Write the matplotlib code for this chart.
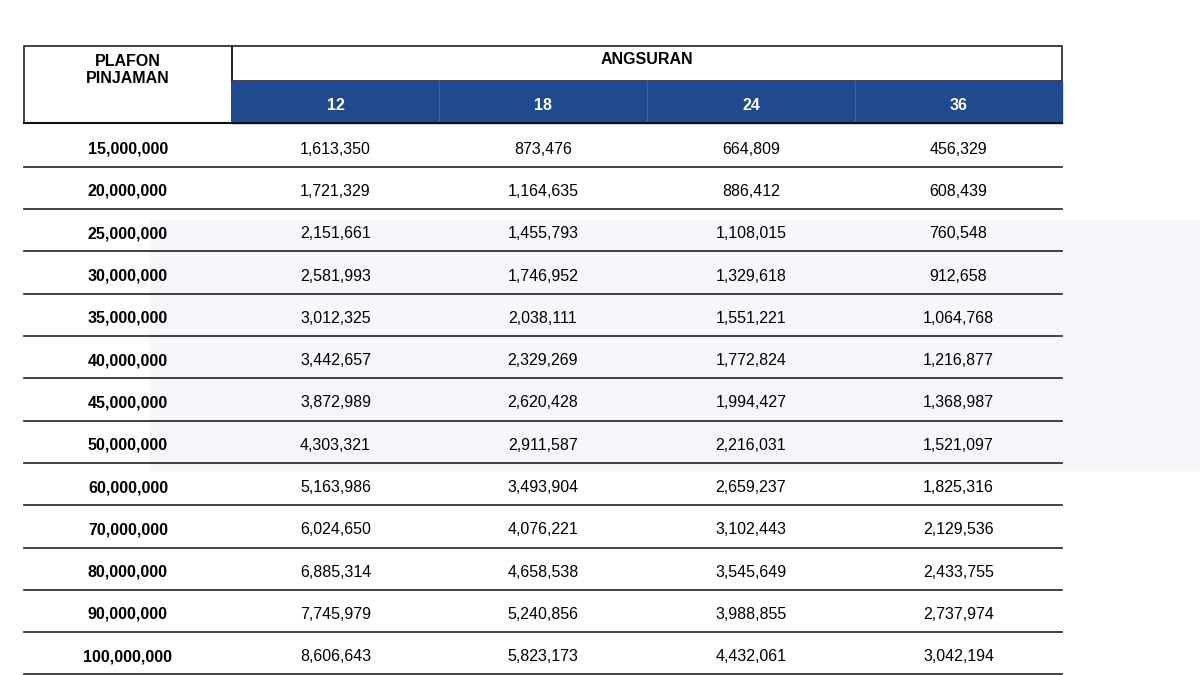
import matplotlib
matplotlib.use("Agg")
import matplotlib.pyplot as plt
from matplotlib.patches import Rectangle

plafon = ["15,000,000","20,000,000","25,000,000","30,000,000","35,000,000","40,000,000",
          "45,000,000","50,000,000","60,000,000","70,000,000","80,000,000","90,000,000","100,000,000"]
tenors = ["12","18","24","36"]
a12 = ["1,613,350","1,721,329","2,151,661","2,581,993","3,012,325","3,442,657","3,872,989",
       "4,303,321","5,163,986","6,024,650","6,885,314","7,745,979","8,606,643"]
a18 = ["873,476","1,164,635","1,455,793","1,746,952","2,038,111","2,329,269","2,620,428",
       "2,911,587","3,493,904","4,076,221","4,658,538","5,240,856","5,823,173"]
a24 = ["664,809","886,412","1,108,015","1,329,618","1,551,221","1,772,824","1,994,427",
       "2,216,031","2,659,237","3,102,443","3,545,649","3,988,855","4,432,061"]
a36 = ["456,329","608,439","760,548","912,658","1,064,768","1,216,877","1,368,987",
       "1,521,097","1,825,316","2,129,536","2,433,755","2,737,974","3,042,194"]
cols = [a12, a18, a24, a36]

fig = plt.figure(figsize=(12, 6.75), dpi=100)
ax = fig.add_axes([0, 0, 1, 1])
ax.set_xlim(0, 1200); ax.set_ylim(675, 0); ax.axis("off")
font = "Liberation Sans"
blue = "#1f4b8e"

# faint background shape
ax.add_patch(Rectangle((150, 220), 1050, 250, color="#f6f7fa", zorder=0))

L, R = 24, 1062
xs = [232, 439, 647, 855, 1062]
ax.add_patch(Rectangle((L, 46), 232 - L, 123 - 46, fill=False, ec="#222", lw=1.2, zorder=2))
ax.add_patch(Rectangle((232, 46), R - 232, 35, fill=False, ec="#222", lw=1.2, zorder=2))
ax.add_patch(Rectangle((232, 81), R - 232, 42, color=blue, zorder=2))
for x in xs[1:-1]:
    ax.plot([x, x], [81, 123], color="#3a64a8", lw=0.8, zorder=3)
ax.text(128, 70, "PLAFON\nPINJAMAN", ha="center", va="center", fontsize=11.5, fontweight="bold",
        family=font, linespacing=1.15, zorder=4)
ax.text(647, 59, "ANGSURAN", ha="center", va="center", fontsize=11.5, fontweight="bold", family=font, zorder=4)
for i, t in enumerate(tenors):
    ax.text((xs[i] + xs[i + 1]) / 2, 106, t, ha="center", va="center", fontsize=11.5,
            fontweight="bold", color="white", family=font, zorder=4)
ax.plot([L, R], [123, 123], color="#111", lw=1.5, zorder=3)

top, h = 124, 42.3
for r, p in enumerate(plafon):
    yc = top + h * r + h / 2 + 4
    ax.text(128, yc, p, ha="center", va="center", fontsize=11.5, fontweight="bold", family=font, zorder=4)
    for c in range(4):
        ax.text((xs[c] + xs[c + 1]) / 2, yc, cols[c][r], ha="center", va="center",
                fontsize=11.5, family=font, zorder=4)
    yl = top + h * (r + 1) + 0.5
    ax.plot([L, R], [yl, yl], color="#222", lw=1.2, zorder=3)

fig.savefig("out.png", dpi=100, facecolor="white")
